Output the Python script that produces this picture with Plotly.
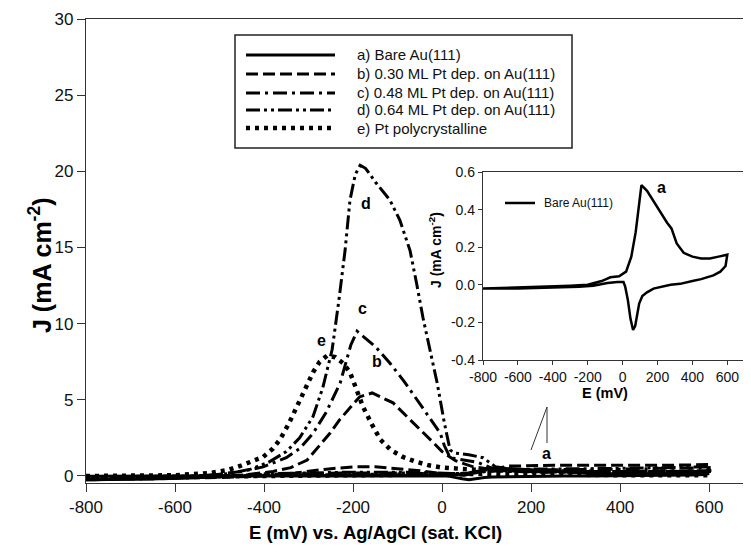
import plotly.graph_objects as go

# ---------------- data ----------------
# a) Bare Au(111) cyclic voltammogram (also used in inset)
xa = [-800, -600, -400, -300, -200, -120, -70, -20, 20, 50, 75, 90, 108, 140, 180, 220, 255, 280, 310,
      350, 400, 450, 500, 550, 600, 590, 560, 520, 450, 400, 330, 275, 220, 177, 140, 113, 95, 80, 72,
      60, 45, 30, 15, 5, -30, -87, -168, -250, -400, -600, -800]
ya = [-0.02, -0.015, -0.01, -0.005, 0.0, 0.02, 0.04, 0.045, 0.07, 0.15, 0.28, 0.40, 0.53, 0.50, 0.44,
      0.38, 0.33, 0.30, 0.22, 0.17, 0.15, 0.14, 0.14, 0.15, 0.16, 0.10, 0.07, 0.05, 0.03, 0.02, 0.005,
      0.0, -0.01, -0.02, -0.04, -0.06, -0.10, -0.17, -0.22, -0.24, -0.18, -0.08, -0.01, 0.015, 0.015,
      0.01, -0.005, -0.01, -0.015, -0.02, -0.02]

# b) 0.30 ML Pt
xb = [-800, -700, -600, -500, -400, -330, -260, -200, -150, -100, -50, 0, 50, 100, 150, 250, 400, 500, 600,
      600, 500, 400, 300, 200, 120, 70, 30, 0, -20, -50, -79, -110, -157, -185, -207, -230, -252, -280,
      -303, -340, -380, -450, -550, -650, -800]
yb = [-0.25, -0.2, -0.15, -0.1, 0.0, 0.2, 0.45, 0.6, 0.6, 0.5, 0.35, 0.15, 0.05, 0.4, 0.65, 0.7, 0.7, 0.7,
      0.75, 0.35, 0.3, 0.3, 0.3, 0.3, 0.4, 0.6, 1.0, 1.6, 2.2, 3.1, 3.9, 4.8, 5.45, 5.2, 4.5, 3.7, 2.8,
      1.8, 1.05, 0.55, 0.3, 0.05, -0.1, -0.2, -0.25]

# c) 0.48 ML Pt
xc = [-800, -600, -450, -400, -300, -200, -100, 0, 50, 100, 200, 400, 600,
      600, 400, 200, 120, 80, 40, 18, 5, -4, -30, -56, -85, -117, -150, -191, -205, -229, -260, -290,
      -320, -350, -402, -450, -520, -650, -800]
yc = [-0.25, -0.15, 0.0, 0.1, 0.15, 0.2, 0.2, 0.15, 0.1, 0.3, 0.4, 0.45, 0.55,
      0.3, 0.25, 0.25, 0.4, 0.9, 1.1, 1.2, 2.0, 2.8, 3.9, 5.0, 6.2, 7.4, 8.5, 9.5, 8.6, 6.1, 4.2, 2.8,
      1.8, 1.2, 0.6, 0.3, 0.05, -0.15, -0.25]

# d) 0.64 ML Pt
xd = [-800, -600, -450, -400, -300, -200, -100, 0, 50, 100, 200, 400, 600,
      600, 400, 200, 120, 92, 60, 30, 18, 5, -11, -27, -43, -57, -72, -95, -117, -150, -172, -184,
      -195, -207, -218, -232, -247, -268, -290, -320, -350, -390, -430, -480, -600, -800]
yd = [-0.2, -0.15, 0.05, 0.15, 0.2, 0.25, 0.25, 0.2, 0.15, 0.35, 0.45, 0.5, 0.6,
      0.3, 0.3, 0.3, 0.6, 1.2, 1.4, 1.5, 1.7, 3.5, 6.1, 8.3, 10.4, 12.6, 14.8, 16.8, 18.1, 19.3, 20.2,
      20.4, 19.8, 18.1, 14.8, 11.5, 8.3, 5.8, 3.9, 2.5, 1.6, 0.9, 0.45, 0.15, -0.1, -0.2]

# e) Pt polycrystalline
xe = [-800, -700, -600, -520, -480, -450, -425, -402, -380, -364, -345, -327, -308, -290, -275, -258,
      -240, -222, -207, -192, -177, -158, -139, -115, -88, -60, -30, 0, 40, 80, 150, 250, 400, 600,
      600, 400, 200, 100, 0, -200, -400, -600, -800]
ye = [0.0, 0.0, 0.05, 0.2, 0.4, 0.7, 1.0, 1.25, 1.8, 2.4, 3.4, 4.5, 5.7, 6.8, 7.5, 7.9,
      7.8, 7.4, 6.8, 5.7, 4.5, 3.4, 2.4, 1.7, 1.25, 0.95, 0.7, 0.55, 0.45, 0.4, 0.35, 0.3, 0.25, 0.3,
      0.05, 0.05, 0.1, 0.15, 0.1, 0.05, 0.0, -0.05, -0.1]

legend_labels = ["a) Bare Au(111)", "b) 0.30 ML Pt dep. on Au(111)", "c) 0.48 ML Pt dep. on Au(111)",
                 "d) 0.64 ML Pt dep. on Au(111)", "e) Pt polycrystalline"]
main_x_ticks = [-800, -600, -400, -200, 0, 200, 400, 600]
main_x_text = ["-800", "-600", "-400", "-200", "0", "200", "400", "600"]
main_y_ticks = [0, 5, 10, 15, 20, 25, 30]
inset_x_ticks = [-800, -600, -400, -200, 0, 200, 400, 600]
inset_x_text = ["-800", "-600", "-400", "-200", "0", "200", "400", "600"]
inset_y_ticks = [-0.4, -0.2, 0.0, 0.2, 0.4, 0.6]
inset_y_text = ["-0.4", "-0.2", "0.0", "0.2", "0.4", "0.6"]

# curve labels (x, y, text)
curve_labels = [(234, 1.45, "a"), (-146, 7.5, "b"), (-178, 11.0, "c"), (-171, 17.9, "d"), (-270, 8.9, "e")]

# ---------------- styles ----------------
FONT = "Liberation Sans, Arial, sans-serif"
BLACK = "#000000"
dashes = ["solid", "12px,5px", "14px,5px,3px,5px", "14px,4px,3px,4px,3px,4px", "4px,5px"]
widths = [3, 3, 3, 3, 4.5]

fig = go.Figure()
series = [(xa, ya), (xb, yb), (xc, yc), (xd, yd), (xe, ye)]
for (sx, sy), dsh, w, name in zip(series, dashes, widths, legend_labels):
    fig.add_trace(go.Scatter(x=sx, y=sy, mode="lines", name=name, showlegend=False,
                             line=dict(color=BLACK, width=w, dash=dsh),
                             xaxis="x", yaxis="y"))

# inset trace
fig.add_trace(go.Scatter(x=xa, y=ya, mode="lines", name="Bare Au(111)", showlegend=False,
                         line=dict(color=BLACK, width=2.5), xaxis="x2", yaxis="y2"))

# ---------------- layout ----------------
# The page body has an 8px margin, so the figure is drawn offset by 8px.
OFF = 8
W, H = 751 - OFF, 558 - OFF
L, R, T, B = 86 - OFF, 0, 19 - OFF, 75
pw, ph = W - L - R, H - T - B


def px2paper(px, py):
    """reference page pixel -> paper coordinates"""
    fx, fy = px - OFF, py - OFF
    return (fx - L) / pw, (H - B - fy) / ph


shapes = []
annotations = []

# legend box (manual)
bx0, by0 = px2paper(235, 35)
bx1, by1 = px2paper(572, 148)
shapes.append(dict(type="rect", xref="paper", yref="paper", x0=bx0, y0=by1, x1=bx1, y1=by0,
                   line=dict(color="#222222", width=1.5), fillcolor="white", layer="above"))
row_py = [55, 74, 93, 110, 128]
for lab, dsh, w, py in zip(legend_labels, dashes, widths, row_py):
    sx0, sy = px2paper(246, py)
    sx1, _ = px2paper(335, py)
    shapes.append(dict(type="line", xref="paper", yref="paper", x0=sx0, x1=sx1, y0=sy, y1=sy,
                       line=dict(color=BLACK, width=(3 if w < 4 else 4.5), dash=dsh), layer="above"))
    tx, _ = px2paper(355, py)
    annotations.append(dict(xref="paper", yref="paper", x=tx, y=sy, text=lab, showarrow=False,
                            xanchor="left", yanchor="middle", font=dict(family=FONT, size=15, color="#111")))

# inset legend (manual)
ix0, iy = px2paper(505, 203)
ix1, _ = px2paper(535, 203)
shapes.append(dict(type="line", xref="paper", yref="paper", x0=ix0, x1=ix1, y0=iy, y1=iy,
                   line=dict(color=BLACK, width=2.5)))
itx, _ = px2paper(542, 203)
annotations.append(dict(xref="paper", yref="paper", x=itx, y=iy, text="Bare Au(111)", showarrow=False,
                        xanchor="left", yanchor="middle", font=dict(family=FONT, size=12, color="#111")))

# pointer arrow (open V) from label a toward inset
tipx, tipy = px2paper(547, 407)
lx, ly = px2paper(531, 450)
vx, vy = px2paper(547, 443)
shapes.append(dict(type="line", xref="paper", yref="paper", x0=lx, y0=ly, x1=tipx, y1=tipy,
                   line=dict(color="#333", width=1)))
shapes.append(dict(type="line", xref="paper", yref="paper", x0=vx, y0=vy, x1=tipx, y1=tipy,
                   line=dict(color="#333", width=1)))

# curve letter labels
for cx, cy, t in curve_labels:
    annotations.append(dict(x=cx, y=cy, xref="x", yref="y", text=f"<b>{t}</b>", showarrow=False,
                            font=dict(family=FONT, size=16, color=BLACK)))
annotations.append(dict(x=224, y=0.515, xref="x2", yref="y2", text="<b>a</b>", showarrow=False,
                        font=dict(family=FONT, size=16, color=BLACK)))

# axis titles
ytx, yty = px2paper(22, 265)
annotations.append(dict(xref="paper", yref="paper", x=ytx, y=yty, text="<b>J (mA cm<sup>-2</sup>)</b>",
                        textangle=-90, showarrow=False, font=dict(family=FONT, size=25, color=BLACK)))
xtx, xty = px2paper(375, 545)
annotations.append(dict(xref="paper", yref="paper", x=xtx, y=xty,
                        text="<b>E (mV) vs. Ag/AgCl (sat. KCl)</b>", showarrow=False,
                        font=dict(family=FONT, size=18.5, color=BLACK)))
# inset titles
itx2, ity2 = px2paper(435, 250)
annotations.append(dict(xref="paper", yref="paper", x=itx2, y=ity2, text="<b>J (mA cm<sup>-2</sup>)</b>",
                        textangle=-90, showarrow=False, font=dict(family=FONT, size=14, color=BLACK)))
ixx, ixy = px2paper(630, 403)
annotations.append(dict(xref="paper", yref="paper", x=ixx, y=ixy, text="<b>E (mV)</b>", showarrow=False,
                        font=dict(family=FONT, size=14.5, color=BLACK)))

ins_x0, ins_y_top = px2paper(483, 172)
ins_x1, ins_y_bot = px2paper(743, 360)

fig.update_layout(
    width=W, height=H,
    margin=dict(l=L, r=R, t=T, b=B, pad=0, autoexpand=False),
    paper_bgcolor="white", plot_bgcolor="white",
    font=dict(family=FONT, color=BLACK),
    showlegend=False,
    xaxis=dict(domain=[0, 1], range=[-800, 694], tickvals=main_x_ticks, ticktext=main_x_text,
               ticks="outside", ticklen=8,
               tickwidth=1, tickcolor="#333", showline=True, linecolor="#333", linewidth=1.3, mirror=True,
               showgrid=False, zeroline=False, tickfont=dict(family=FONT, size=17, color="#111")),
    yaxis=dict(domain=[0, 1], range=[-0.46, 30], tickvals=main_y_ticks, ticks="outside", ticklen=8,
               tickwidth=1, tickcolor="#333", showline=True, linecolor="#333", linewidth=1.3,
               showgrid=False, zeroline=False, tickfont=dict(family=FONT, size=17, color="#111")),
    xaxis2=dict(domain=[ins_x0, ins_x1], anchor="y2", range=[-800, 690], tickvals=inset_x_ticks,
                ticktext=inset_x_text,
                ticks="outside", ticklen=4, tickcolor="#333", showline=True, linecolor="#333",
                linewidth=1.3, mirror=True, showgrid=False, zeroline=False,
                tickfont=dict(family=FONT, size=14, color="#111")),
    yaxis2=dict(domain=[ins_y_bot, ins_y_top], anchor="x2", range=[-0.4, 0.6], tickvals=inset_y_ticks,
                ticktext=inset_y_text, ticks="outside", ticklen=4, tickcolor="#333", showline=True,
                linecolor="#333", linewidth=1.3, mirror=True, showgrid=False, zeroline=False,
                tickfont=dict(family=FONT, size=14, color="#111")),
    shapes=shapes,
    annotations=annotations,
)

fig.write_html("out.html")
